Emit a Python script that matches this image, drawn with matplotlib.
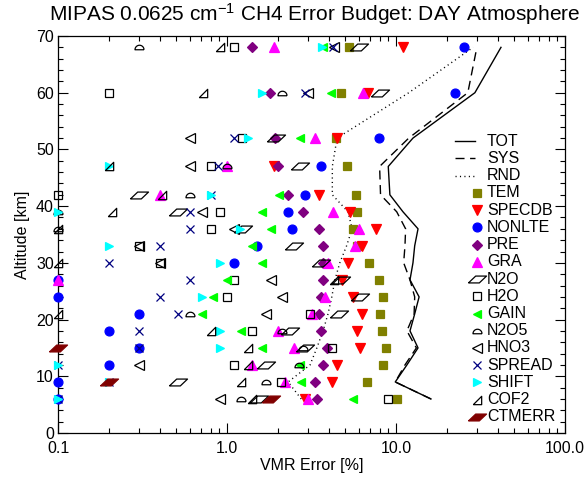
import numpy as np
import matplotlib
matplotlib.use('Agg')
import matplotlib.pyplot as plt
from matplotlib.ticker import FixedLocator, FixedFormatter, MultipleLocator, LogLocator, NullFormatter

plt.rcParams['font.family'] = ['Liberation Sans', 'DejaVu Sans']
plt.rcParams['mathtext.default'] = 'regular'

nan = np.nan

# altitudes [km]
alts = [6, 9, 12, 15, 18, 21, 24, 27, 30, 33, 36, 39, 42, 47, 52, 60, 68]

# total / systematic / random error [%]
tot = [16.1, 9.9, 11.6, 13.5, 12.1, 12.9, 13.7, 12.1, 12.6, 12.9, 13.5, 11.0, 9.2, 9.0, 12.6, 29.3, 41.8]
sys_err = [16.1, 9.9, 11.3, 13.2, 11.6, 12.8, 12.9, 12.1, 11.1, 11.3, 11.4, 10.1, 8.1, 8.0, 11.9, 26.6, 30.1]
rnd = [2.75, 2.3, 3.1, 3.4, 3.7, 3.96, 4.17, 4.35, 4.65, 5.1, 5.5, 5.2, 4.2, 4.2, 4.48, 11.9, 28.6]

# single error sources [%]
tem = [10.1, 6.7, 8.4, 8.7, 8.3, 8.0, 8.4, 7.9, 6.9, 5.9, 5.6, 5.9, 5.8, 5.1, 4.4, 4.7, 5.3]
specdb = [2.9, 4.2, 4.45, 6.1, 5.9, 6.3, 5.6, 4.8, 5.2, 6.3, 7.6, 5.35, 3.5, 1.9, 4.5, 6.8, 11.0]
nonlte = [0.1, 0.1, 0.2, 0.3, 0.2, 0.3, 0.1, 0.1, 1.1, 1.51, 2.43, 2.3, 2.9, 3.6, 7.9, 22.3, 25.2]
pre = [3.4, 3.3, 3.7, 3.9, 3.6, 3.5, 3.6, 3.7, 3.7, 3.7, 3.5, 2.8, 2.3, 2.0, 1.92, 1.8, 1.41]
gra = [3.0, 2.2, 1.41, 2.5, 2.0, 3.2, 3.8, 0.1, 3.96, 5.7, 6.0, 4.24, 0.40, 1.0, 3.3, 6.4, 1.9]
n2o = [1.55, 0.51, 1.7, 2.9, 2.37, 4.6, 6.1, 4.7, 3.6, 2.5, 1.25, 0.51, 0.30, 2.7, 1.95, 8.0, 6.0]
h2o = [9.0, 2.1, 1.10, 4.2, 1.41, 3.1, 1.0, 1.10, 0.40, 0.30, 0.80, 0.91, 0.1, 0.80, 1.22, 0.20, 1.10]
gain = [5.6, 2.75, 2.7, 1.61, 1.21, 0.71, 0.83, 1.0, 1.61, 1.41, 1.82, 1.61, 2.04, nan, 2.7, 4.15, 3.7]
n2o5 = [1.21, 1.7, 2.67, 2.8, 2.11, 0.60, nan, nan, nan, nan, 0.1, 0.1, 0.60, 1.0, nan, 2.11, 0.30]
hno3 = [0.91, nan, 0.30, nan, nan, 1.70, 2.11, 1.82, 0.40, 0.30, 1.10, 0.71, nan, 0.60, 0.60, 3.0, 4.3]
spread = [0.1, 0.2, 0.1, 0.3, 0.3, 0.51, 0.40, 0.60, 0.20, 0.40, 0.60, 0.60, 0.80, 0.89, 1.10, 2.9, 4.24]
shift = [0.1, 0.2, 0.1, 0.91, 0.91, nan, 0.71, nan, 0.91, 0.20, 1.2, 0.1, 0.80, 0.20, 1.33, 1.61, 3.65]
cof2 = [1.4, 1.21, 1.33, 1.33, 0.80, 0.1, nan, 4.3, 0.1, nan, 0.1, 0.21, 0.41, 0.20, nan, 0.72, 0.91]
ctmerr = [1.82, 0.2, nan, 0.1, nan, nan, nan, nan, nan, nan, nan, nan, nan, nan, nan, nan, nan]

# custom symbols
para = [(-1, -0.38), (0.2, -0.38), (1, 0.38), (-0.2, 0.38), (-1, -0.38)]
t = np.linspace(0, np.pi, 20)
dome = list(zip(np.cos(t), np.sin(t) - 0.5)) + [(-1, -0.5), (1, -0.5)]
cof2_mk = [(-1, -1), (1, -1), (1, 1), (-1, -1)]

# name, data, marker, size, face, edge
sources = [
    ('TEM', tem, 's', 6.4, '#808000', '#808000'),
    ('SPECDB', specdb, 'v', 6.6, '#ff0000', '#ff0000'),
    ('NONLTE', nonlte, 'o', 6.4, '#0000ff', '#0000ff'),
    ('PRE', pre, 'D', 5.6, '#800080', '#800080'),
    ('GRA', gra, '^', 6.6, '#ff00ff', '#ff00ff'),
    ('N2O', n2o, para, 13, 'none', 'black'),
    ('H2O', h2o, 's', 6.0, 'none', 'black'),
    ('GAIN', gain, '<', 6.4, '#00ff00', '#00ff00'),
    ('N2O5', n2o5, dome, 6.5, 'none', 'black'),
    ('HNO3', hno3, '<', 6.5, 'none', 'black'),
    ('SPREAD', spread, 'x', 6.2, '#000080', '#000080'),
    ('SHIFT', shift, '>', 6.4, '#00ffff', '#00ffff'),
    ('COF2', cof2, cof2_mk, 6.0, 'none', 'black'),
    ('CTMERR', ctmerr, para, 13, '#800000', '#800000'),
]

fig = plt.figure(figsize=(5.87, 4.78), dpi=100)
ax = fig.add_axes([58/587, 45/478, 507/587, 397/478])

ax.plot(tot, alts, color='black', lw=1.0, zorder=1)
ax.plot(sys_err, alts, color='black', lw=1.0, dashes=(6.5, 4), zorder=1)
ax.plot(rnd, alts, color='black', lw=1.0, dashes=(0.8, 2.4), zorder=1)

for name, vals, mk, ms, fc, ec in sources:
    ax.plot(vals, alts, ls='none', marker=mk, ms=ms, mfc=fc, mec=ec, mew=0.9,
            clip_on=False, zorder=3)

ax.set_xscale('log')
ax.set_xlim(0.1, 100)
ax.set_ylim(0, 70)
ax.xaxis.set_major_locator(FixedLocator([0.1, 1, 10, 100]))
ax.xaxis.set_major_formatter(FixedFormatter(['0.1', '1.0', '10.0', '100.0']))
ax.xaxis.set_minor_locator(LogLocator(base=10, subs=np.arange(2, 10)))
ax.xaxis.set_minor_formatter(NullFormatter())
ax.yaxis.set_major_locator(MultipleLocator(10))
ax.yaxis.set_minor_locator(MultipleLocator(2))
ax.tick_params(which='both', direction='in', top=True, right=True, width=0.8, labelsize=11.5)
ax.tick_params(which='major', length=7)
ax.tick_params(which='minor', length=3.5)
ax.tick_params(axis='x', pad=6)
ax.tick_params(axis='y', pad=3)
for s in ax.spines.values():
    s.set_linewidth(0.9)

ax.set_xlabel('VMR Error [%]', fontsize=11.5, labelpad=1)
ax.set_ylabel('Altitude [km]', fontsize=11.5, labelpad=4)
ax.set_title('MIPAS 0.0625 cm$^{-1}$ CH4 Error Budget: DAY Atmosphere', fontsize=15, pad=11, x=0.507)

# legend drawn IDL-style: symbol at the end of the handle
y0, dy = 0.735, 0.0434
for i, (lab, dash) in enumerate([('TOT', None), ('SYS', (6.5, 4)), ('RND', (0.8, 2.4))]):
    y = y0 - i * dy
    ln, = ax.plot([0.783, 0.822], [y, y], color='black', lw=1.0, transform=ax.transAxes, clip_on=False)
    if dash:
        ln.set_dashes(dash)
    ax.text(0.846, y, lab, transform=ax.transAxes, va='center', ha='left', fontsize=11.5)
for j, (name, vals, mk, ms, fc, ec) in enumerate(sources):
    y = y0 - (j + 3) * dy
    ax.plot([0.826], [y], ls='none', marker=mk, ms=ms, mfc=fc, mec=ec, mew=0.9,
            transform=ax.transAxes, clip_on=False)
    ax.text(0.846, y, name, transform=ax.transAxes, va='center', ha='left', fontsize=11.5)

fig.savefig('out.png', dpi=100)
